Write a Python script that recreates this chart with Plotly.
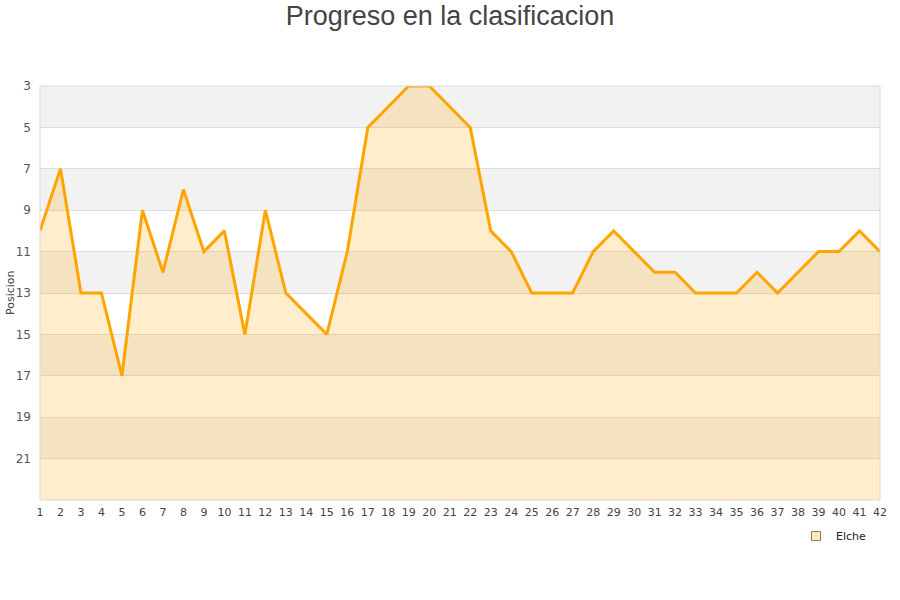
import plotly.graph_objects as go

jornadas = list(range(1, 43))
posiciones = [10, 7, 13, 13, 17, 9, 12, 8, 11, 10,
              15, 9, 13, 14, 15, 11, 5, 4, 3, 3,
              4, 5, 10, 11, 13, 13, 13, 11, 10, 11,
              12, 12, 13, 13, 13, 12, 13, 12, 11, 11,
              10, 11]
equipo = "Elche"
y_min, y_max = 3, 23
y_ticks = list(range(3, 23, 2))
x_ticks = list(range(1, 43))

line_color = "#FFA500"
fill_color = "rgba(255,165,0,0.2)"

fig = go.Figure()
# baseline for filling down to the bottom of the reversed axis
fig.add_trace(go.Scatter(x=jornadas, y=[y_max] * len(jornadas), mode="lines",
                         line=dict(width=0, color="rgba(0,0,0,0)"),
                         showlegend=False, hoverinfo="skip"))
fig.add_trace(go.Scatter(x=jornadas, y=posiciones, mode="lines", name=equipo,
                         line=dict(color=line_color, width=3),
                         fill="tonexty", fillcolor=fill_color,
                         showlegend=False))
# legend entry with square symbol
fig.add_trace(go.Scatter(x=[None], y=[None], mode="markers", name=equipo,
                         marker=dict(symbol="square", size=9, color="#fde9c5",
                                     line=dict(color="#8a7a60", width=1))))

shapes = []
for i, t in enumerate(y_ticks):
    if i % 2 == 0:
        shapes.append(dict(type="rect", xref="paper", yref="y", x0=0, x1=1,
                           y0=t, y1=t + 2, fillcolor="#f2f2f2",
                           line=dict(width=0), layer="below"))
shapes.append(dict(type="rect", xref="paper", yref="paper", x0=0, x1=1, y0=0, y1=1,
                   line=dict(color="#d8d8d8", width=1), fillcolor="rgba(0,0,0,0)",
                   layer="above"))

fig.update_layout(
    width=900, height=600,
    margin=dict(l=40, r=20, t=86, b=100, autoexpand=False),
    paper_bgcolor="white", plot_bgcolor="white",
    title=dict(text="Progreso en la clasificacion", x=0.5, xanchor="center",
               y=0.99, yanchor="top",
               font=dict(family="Liberation Sans", size=27, color="#444444")),
    font=dict(family="DejaVu Sans", size=11, color="#555555"),
    shapes=shapes,
    annotations=[dict(text="Posicion", xref="paper", yref="paper",
                      x=-0.0357, y=0.5, xanchor="center", yanchor="middle",
                      textangle=-90, showarrow=False,
                      font=dict(size=11, color="#444444"))],
    showlegend=True,
    legend=dict(x=0.9, xanchor="left", y=-0.052, yanchor="top",
                orientation="h", bgcolor="rgba(0,0,0,0)", itemwidth=30,
                font=dict(family="DejaVu Sans", size=11, color="#222222")),
    xaxis=dict(range=[1, 42], tickmode="array", tickvals=x_ticks,
               ticktext=[str(v) for v in x_ticks], showgrid=False,
               zeroline=False, showline=False, ticks="", automargin=False,
               ticklabelstandoff=4,
               tickfont=dict(size=11, color="#444444")),
    yaxis=dict(range=[y_max, y_min], tickmode="array", tickvals=y_ticks,
               ticktext=[str(v) for v in y_ticks], showgrid=True,
               gridcolor="#dddddd", gridwidth=1, zeroline=False,
               showline=False, ticks="", ticklabelstandoff=8, automargin=False,
               tickfont=dict(size=12, color="#555555")),
)

fig.write_html("out.html", config={"displayModeBar": False},
               post_script="document.body.style.margin='0';")
